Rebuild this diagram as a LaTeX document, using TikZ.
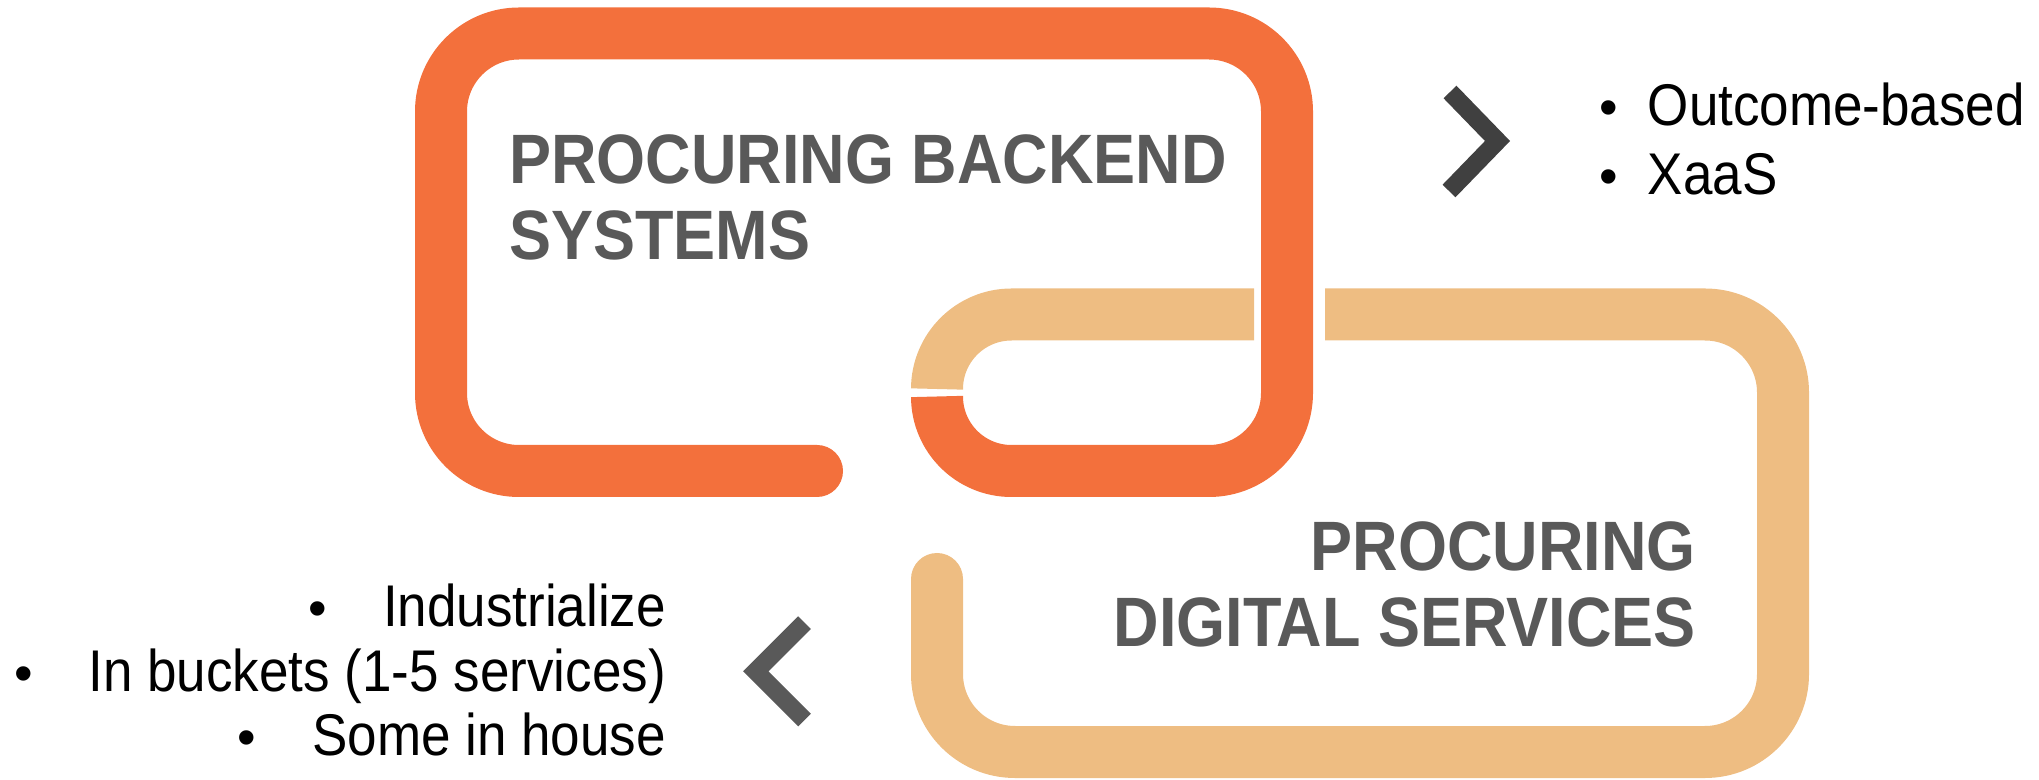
\documentclass[tikz,border=0pt]{standalone}
\usepackage{graphicx}
\usepackage{fontspec}
\setmainfont{Liberation Sans}
\definecolor{linkdark}{RGB}{243,112,60}
\definecolor{linklight}{RGB}{238,189,130}
\definecolor{headgray}{RGB}{89,89,89}
\definecolor{chevdark}{RGB}{64,64,64}
\definecolor{chevgray}{RGB}{89,89,89}
\newcommand\vstr[1]{\scalebox{1}[1.11]{#1}}
\begin{document}
\begin{tikzpicture}[x=1pt,y=1pt,
  link/.style={line width=52pt},
  heading/.style={font=\fontsize{63}{76}\selectfont\bfseries, text=headgray, inner sep=0pt},
  bullettext/.style={font=\fontsize{53}{64}\selectfont, text=black, inner sep=0pt},
  chev/.style={line width=18pt, miter limit=10}]
\useasboundingbox (0,0) rectangle (2039,779);

% light (lower) link
\draw[link, linklight] (937,200) -- (937,105) arc[start angle=180,end angle=270,radius=78]
  -- (1705,27) arc[start angle=270,end angle=360,radius=78]
  -- (1783,386.5) arc[start angle=0,end angle=90,radius=78] -- (1325,464.5);
\fill[linklight] (937,200) circle[radius=26];
\draw[link, linklight] (1254,464.5) -- (1011.5,464.5) arc[start angle=90,end angle=180,radius=74.5];

% dark (upper) link
\draw[link, linkdark] (817,308) -- (519,308) arc[start angle=270,end angle=180,radius=78]
  -- (441,667.5) arc[start angle=180,end angle=90,radius=78]
  -- (1209,745.5) arc[start angle=90,end angle=0,radius=78]
  -- (1287,386) arc[start angle=0,end angle=-90,radius=78]
  -- (1011.5,308) arc[start angle=270,end angle=180,radius=74.5];
\fill[linkdark] (817,308) circle[radius=26];

% chevrons
\draw[chev, chevdark] (1450,687) -- (1497.5,638) -- (1449,588);
\draw[chev, chevgray] (804.5,156.3) -- (755.8,107.7) -- (804.5,59);

% headings
\node[heading, anchor=base west] (h1a) at (509,595) {\vstr{PROCURING BACKEND}};
\node[heading, anchor=base west] (h1b) at (509,519) {\vstr{SYSTEMS}};
\node[heading, anchor=base east] (h2a) at (1696,208.5) {\vstr{PROCURING}};
\node[heading, anchor=base east] (h2b) at (1696,132.5) {\vstr{DIGITAL SERVICES}};

% top-right bullets
\node[bullettext, anchor=base west] (r1) at (1647.6,653) {\vstr{Outcome-based}};
\node[bullettext, anchor=base west] (r2) at (1647.6,584) {\vstr{XaaS}};
\node[bullettext, anchor=base] (rb1) at ([xshift=-39pt]r1.base west) {•};
\node[bullettext, anchor=base] (rb2) at ([xshift=-39pt]r2.base west) {•};

% bottom-left bullets
\node[bullettext, anchor=base east] (l1) at (666,152) {\vstr{Industrialize}};
\node[bullettext, anchor=base east] (l2) at (666,88) {\vstr{In buckets (1-5 services)}};
\node[bullettext, anchor=base east] (l3) at (666,24) {\vstr{Some in house}};
\node[bullettext, anchor=base] (lb1) at ([xshift=-65pt]l1.base west) {•};
\node[bullettext, anchor=base] (lb2) at ([xshift=-65pt]l2.base west) {•};
\node[bullettext, anchor=base] (lb3) at ([xshift=-65pt]l3.base west) {•};
\end{tikzpicture}
\end{document}
